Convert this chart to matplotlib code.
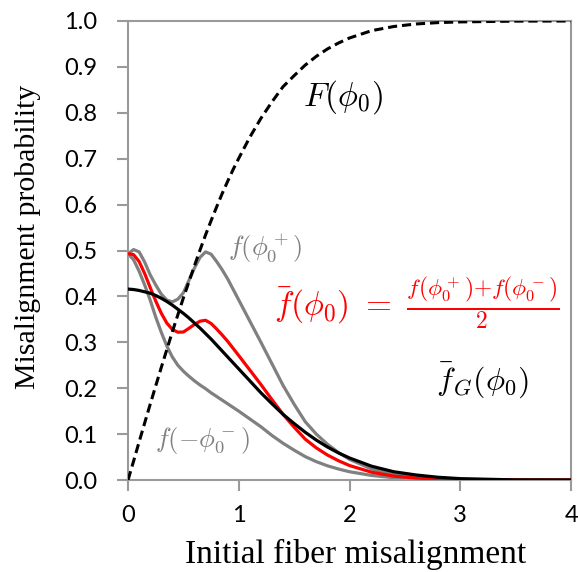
import numpy as np
import matplotlib
matplotlib.use("Agg")
import matplotlib.pyplot as plt

plt.rcParams['mathtext.fontset'] = 'cm'

# misalignment grid (finer where the curves bend)
phi = [0.00, 0.05, 0.10, 0.15, 0.20, 0.25, 0.30, 0.35, 0.40, 0.45,
       0.50, 0.55, 0.60, 0.65, 0.70, 0.75, 0.80, 0.85, 0.90, 0.95,
       1.00, 1.10, 1.20, 1.30, 1.40, 1.50, 1.60, 1.70, 1.80, 1.90,
       2.00, 2.20, 2.40, 2.60, 2.80, 3.00, 3.50, 4.00]

# f(phi0+)
f_plus = [0.493, 0.502, 0.497, 0.475, 0.447, 0.425, 0.405, 0.392, 0.388, 0.394,
          0.408, 0.435, 0.462, 0.485, 0.497, 0.492, 0.476, 0.458, 0.438, 0.415,
          0.392, 0.346, 0.300, 0.253, 0.206, 0.165, 0.127, 0.100, 0.078, 0.060,
          0.045, 0.024, 0.012, 0.006, 0.003, 0.0015, 0.0002, 0.0]

# f(-phi0-)
f_minus = [0.493, 0.480, 0.455, 0.425, 0.392, 0.355, 0.322, 0.292, 0.268, 0.250,
           0.237, 0.226, 0.216, 0.207, 0.199, 0.190, 0.182, 0.174, 0.166, 0.158,
           0.150, 0.133, 0.116, 0.097, 0.080, 0.065, 0.051, 0.040, 0.031, 0.024,
           0.018, 0.010, 0.005, 0.0025, 0.0012, 0.0006, 0.0001, 0.0]

# Gaussian fit f_G
f_gauss = [0.416, 0.415, 0.413, 0.410, 0.407, 0.402, 0.396, 0.389, 0.381, 0.372,
           0.363, 0.353, 0.342, 0.331, 0.319, 0.307, 0.294, 0.281, 0.268, 0.255,
           0.242, 0.216, 0.190, 0.166, 0.143, 0.123, 0.104, 0.087, 0.072, 0.059,
           0.048, 0.030, 0.018, 0.011, 0.006, 0.003, 0.0003, 0.0]

# cumulative F
F_cum = [0.000, 0.041, 0.083, 0.124, 0.165, 0.205, 0.245, 0.284, 0.323, 0.360,
         0.397, 0.432, 0.467, 0.501, 0.534, 0.565, 0.595, 0.624, 0.651, 0.677,
         0.701, 0.747, 0.788, 0.824, 0.857, 0.881, 0.904, 0.923, 0.939, 0.952,
         0.963, 0.979, 0.988, 0.9935, 0.9965, 0.998, 0.9997, 1.0]

f_bar = (np.array(f_plus) + np.array(f_minus)) / 2

fig = plt.figure(figsize=(5.78, 5.72), dpi=100)
ax = fig.add_axes([0.2215, 0.1608, 0.7665, 0.8025])

gray = '#808080'
red = '#ff0000'
ax.plot(phi, f_plus, color=gray, lw=2.3, zorder=2)
ax.plot(phi, f_minus, color=gray, lw=2.3, zorder=2)
ax.plot(phi, f_bar, color=red, lw=2.3, zorder=3)
ax.plot(phi, f_gauss, color='black', lw=2.3, zorder=4)
ax.plot(phi, F_cum, color='black', lw=2.2, ls=(0, (3, 1.6)), zorder=5)

ax.set_xlim(0, 4)
ax.set_ylim(0, 1.0)
ax.set_xticks([0, 1, 2, 3, 4])
ax.set_yticks(np.arange(0, 1.01, 0.1))
ax.set_yticklabels(['%.1f' % v for v in np.arange(0, 1.01, 0.1)])

for s in ax.spines.values():
    s.set_color('#9a9a9a')
    s.set_linewidth(1.5)
ax.tick_params(direction='out', length=8, width=1.5, color='#9a9a9a',
               labelsize=17)
ax.tick_params(axis='y', pad=14)
ax.tick_params(axis='x', pad=10)
for lab in ax.get_xticklabels() + ax.get_yticklabels():
    lab.set_family('Lato')

ax.set_xlabel('Initial fiber misalignment', family='Liberation Serif',
              fontsize=24, va='center')
ax.set_ylabel('Misalignment probability', family='Liberation Serif',
              fontsize=21.5, va='center')
ax.xaxis.set_label_coords(0.5135, -0.163)
ax.yaxis.set_label_coords(-0.226, 0.529)

# curve labels
ax.text(1.94, 0.834, r'$F(\phi_0)$', fontsize=24, ha='center', va='center')
ax.text(1.24, 0.505, r'$f(\phi_0^+)$', fontsize=19, color=gray,
        ha='center', va='center')
ax.text(0.67, 0.085, r'$f(-\phi_0^-)$', fontsize=19, color=gray,
        ha='center', va='center')
ax.text(2.61, 0.386,
        r'$\bar{f}(\phi_0)\ =\ \frac{f(\phi_0^+){+}f(\phi_0^-)}{2}$',
        fontsize=24, color=red, ha='center', va='center')
ax.text(3.20, 0.218, r'$\bar{f}_G(\phi_0)$', fontsize=23,
        ha='center', va='center')

fig.savefig('out.png', dpi=100)
